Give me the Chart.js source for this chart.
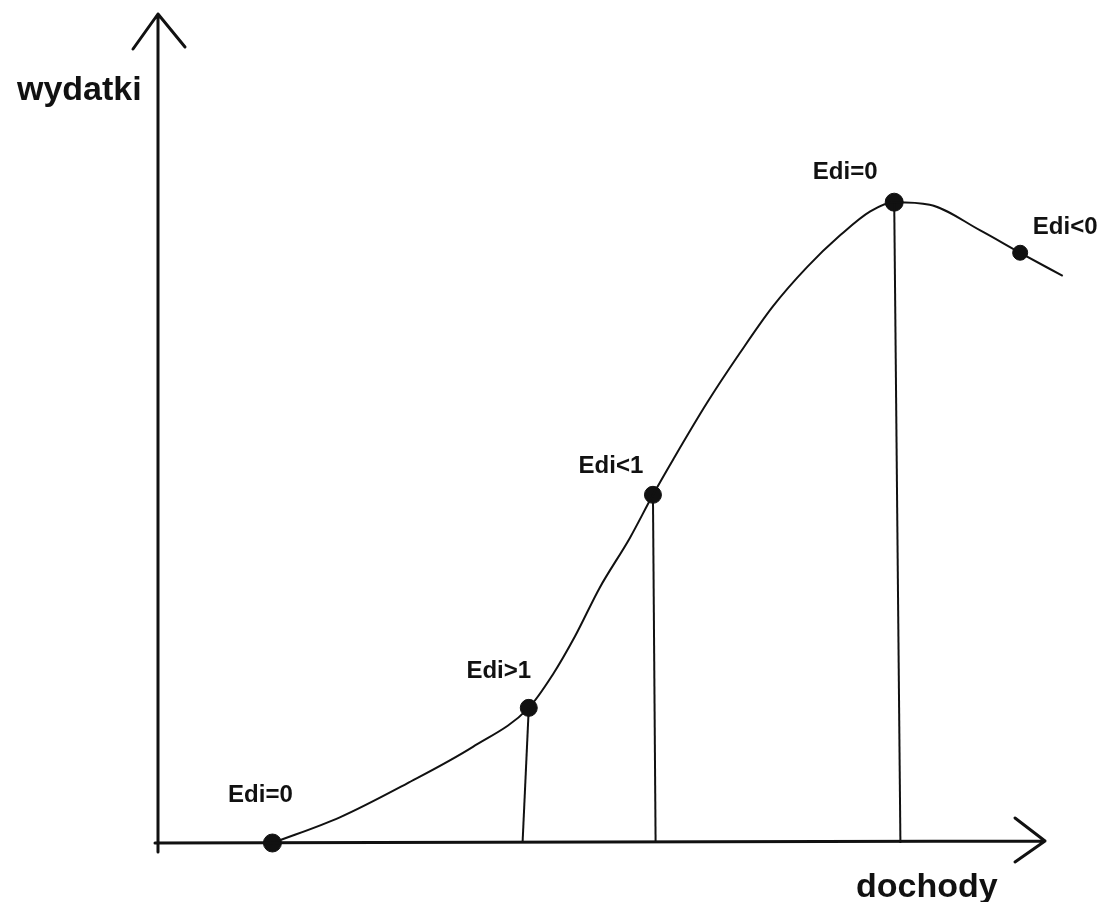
<!DOCTYPE html>
<html>
<head>
<meta charset="utf-8">
<script src="https://cdn.jsdelivr.net/npm/chart.js@4/dist/chart.umd.min.js"></script>
<style>
  html, body { margin: 0; padding: 0; background: #fff; }
  #wrap { width: 1104px; height: 902px; }
</style>
</head>
<body>
<div id="wrap"><canvas id="myChart"></canvas></div>
<script>
// krzywa Engla - dochody (x) / wydatki (y), jednostki umowne 0-100
const curveX = [12.9, 20.5, 28.1, 35.5, 41.8, 44.5, 47.0, 49.8, 53.2, 55.8, 58.1, 61.9, 65.6, 69.3, 73.2, 76.9, 80.3, 83.0, 87.0, 92.7, 97.2, 102.0]
const curveY = [0, 3.1, 7.2, 11.6, 16.3, 20.3, 24.9, 30.8, 36.8, 42.0, 46.3, 53.1, 59.1, 64.7, 69.5, 73.3, 76.2, 77.3, 77.0, 73.9, 71.2, 68.4]

const pointLabels = ["Edi=0", "Edi>1", "Edi<1", "Edi=0", "Edi<0"]
const pointX = [12.9, 41.8, 55.8, 83.0, 97.2]
const pointY = [0, 16.3, 42.0, 77.3, 71.2]

// linie opuszczone na os x (od punktu do osi)
const dropTopX = [41.8, 55.8, 83.0]
const dropTopY = [16.3, 42.0, 77.3]
const dropBottomX = [41.1, 56.1, 83.7]

const xTitle = "dochody"
const yTitle = "wydatki"

// przesuniecia podpisow wzgledem punktow (px)
const labelOffsets = [[-12, -41], [-30, -30], [-42, -22], [-49, -23], [45, -19]]

const ink = '#111'

const drawExtras = {
    id: 'drawExtras',
    afterDatasetsDraw(chart) {
        const ctx = chart.ctx
        const sx = chart.scales.x
        const sy = chart.scales.y
        const x0 = sx.getPixelForValue(0)
        const y0 = sy.getPixelForValue(0)
        const xEnd = sx.getPixelForValue(100)
        const yEnd = sy.getPixelForValue(100)

        ctx.save()
        ctx.strokeStyle = ink
        ctx.lineWidth = 3
        ctx.lineCap = 'round'
        ctx.lineJoin = 'round'

        // os y ze strzalka
        ctx.beginPath()
        ctx.moveTo(x0, y0 + 9)
        ctx.lineTo(x0, yEnd)
        ctx.moveTo(x0 - 25, yEnd + 35)
        ctx.lineTo(x0, yEnd)
        ctx.lineTo(x0 + 27, yEnd + 33)
        ctx.stroke()

        // os x ze strzalka
        ctx.beginPath()
        ctx.moveTo(x0 - 3, y0)
        ctx.lineTo(xEnd, y0 - 2)
        ctx.moveTo(xEnd - 30, y0 - 25)
        ctx.lineTo(xEnd, y0 - 2)
        ctx.lineTo(xEnd - 30, y0 + 19)
        ctx.stroke()

        ctx.fillStyle = ink
        ctx.textBaseline = 'alphabetic'
        ctx.font = 'bold 34px "Liberation Sans", Arial, sans-serif'
        ctx.textAlign = 'left'
        ctx.fillText(yTitle, 17, 100)
        ctx.fillText(xTitle, 856, 897)

        ctx.font = 'bold 24px "Liberation Sans", Arial, sans-serif'
        ctx.textAlign = 'center'
        pointLabels.forEach((t, i) => {
            const px = sx.getPixelForValue(pointX[i])
            const py = sy.getPixelForValue(pointY[i])
            ctx.fillText(t, px + labelOffsets[i][0], py + labelOffsets[i][1])
        })
        ctx.restore()
    }
}

function my_engel_chart() {
    const datasets = []

    datasets.push({
        type: 'line',
        data: curveX.map((x, i) => ({ x: x, y: curveY[i] })),
        borderColor: ink,
        borderWidth: 2,
        pointRadius: 0,
        cubicInterpolationMode: 'monotone',
        clip: false
    })

    dropTopX.forEach((x, i) => {
        datasets.push({
            type: 'line',
            data: [{ x: x, y: dropTopY[i] }, { x: dropBottomX[i], y: 0 }],
            borderColor: ink,
            borderWidth: 2,
            pointRadius: 0,
            clip: false
        })
    })

    datasets.push({
        type: 'scatter',
        data: pointX.map((x, i) => ({ x: x, y: pointY[i] })),
        backgroundColor: ink,
        borderColor: ink,
        pointRadius: [9, 8.5, 8.5, 9, 7.5],
        clip: false
    })

    new Chart("myChart", {
        data: { datasets: datasets },
        plugins: [drawExtras],
        options: {
            responsive: true,
            maintainAspectRatio: false,
            animation: false,
            layout: {
                padding: { left: 158, right: 59, top: 14, bottom: 59 }
            },
            scales: {
                x: { type: 'linear', min: 0, max: 100, display: false },
                y: { type: 'linear', min: 0, max: 100, display: false }
            },
            plugins: {
                legend: { display: false },
                tooltip: { enabled: false }
            }
        }
    })
}

my_engel_chart()
</script>
</body>
</html>
